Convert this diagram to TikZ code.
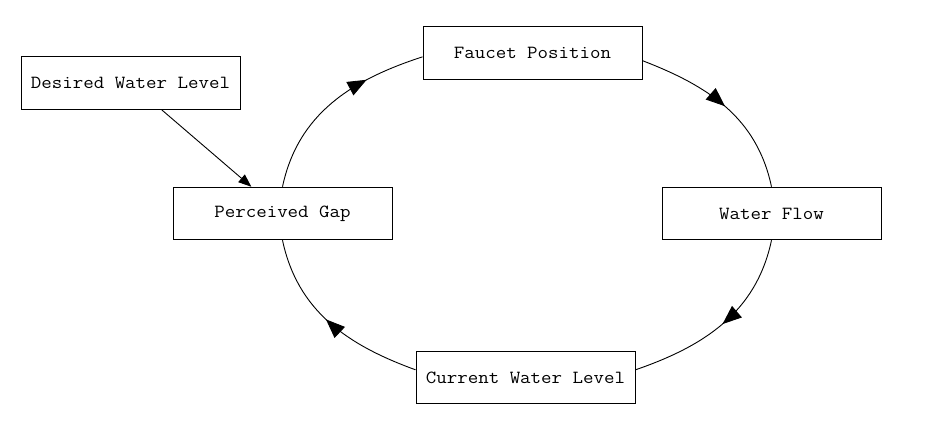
\documentclass[tikz,border=0pt]{standalone}
\usepackage{fontspec}
\newfontfamily\boxfont{Latin Modern Mono}[FakeStretch=1.1]
\usetikzlibrary{arrows.meta,decorations.markings}
\tikzset{
  x=1pt,y=1pt,
  box/.style={draw=black,line width=1pt,minimum width=219pt,minimum height=52.5pt,inner sep=0pt,font=\boxfont\fontsize{18.5}{21}\selectfont},
  edge/.style={line width=0.9pt},
  midarrow/.style={postaction={decorate},decoration={markings,mark=at position #1 with {\arrow{Triangle[length=19pt,width=15pt]}}}}
}
\begin{document}
\begin{tikzpicture}
\useasboundingbox (0,0) rectangle (932,426);
\node[box] (dw) at (130.5,343) {Desired Water Level};
\node[box] (pg) at (282.5,212.5) {Perceived Gap};
\node[box] (fp) at (532.5,373) {Faucet Position};
\node[box] (wf) at (771.5,212.5) {Water Flow};
\node[box] (cw) at (525.5,48.5) {Current Water Level};
\draw[edge,-{Triangle[length=13pt,width=10pt]}] (dw) -- (pg);
\draw[edge,midarrow=0.5] (fp.-4) to[out=-21,in=102] (wf.north);
\draw[edge,midarrow=0.5] (wf.south) to[out=-102,in=19] (cw.4);
\draw[edge,midarrow=0.53] (cw.176) to[out=160,in=-78] (pg.south);
\draw[edge,midarrow=0.7] (pg.north) to[out=78,in=198] (fp.182);
\end{tikzpicture}
\end{document}
